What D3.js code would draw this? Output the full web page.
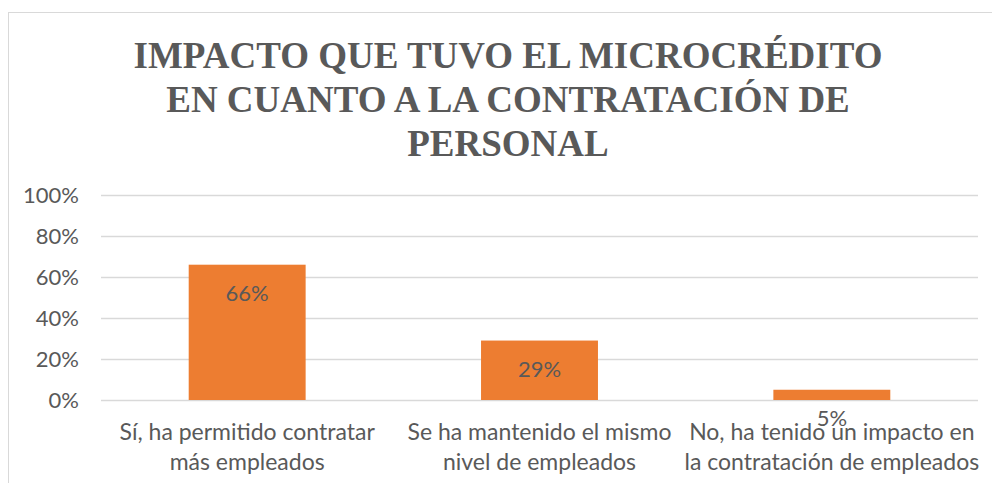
<!DOCTYPE html>
<html>
<head>
<meta charset="utf-8">
<script src="https://cdn.jsdelivr.net/npm/d3@7"></script>
<style>
  body { margin: 0; background: #fff; }
  svg text { fill: #595959; }
</style>
</head>
<body>
<div id="chart"></div>
<script>
const titleLines = ['IMPACTO QUE TUVO EL MICROCRÉDITO', 'EN CUANTO A LA CONTRATACIÓN DE', 'PERSONAL'];
const categories = [
  ['Sí, ha permitido contratar', 'más empleados'],
  ['Se ha mantenido el mismo', 'nivel de empleados'],
  ['No, ha tenido un impacto en', 'la contratación de empleados']
];
const values = [0.66, 0.29, 0.05];
const yTicks = [0, 0.2, 0.4, 0.6, 0.8, 1];

const width = 992, height = 483;
const margin = {top: 195, right: 14, bottom: 83, left: 101};
const bodyFont = 'Lato, "Open Sans", sans-serif';
const titleFont = '"Liberation Serif", Tinos, "Times New Roman", "DejaVu Serif", serif';

const svg = d3.select('#chart').append('svg')
  .attr('width', width)
  .attr('height', height);

// chart frame
svg.append('rect')
  .attr('x', 8.5).attr('y', 12.5)
  .attr('width', width + 10).attr('height', height + 10)
  .attr('fill', 'none').attr('stroke', '#d9d9d9');

const x = d3.scaleBand()
  .domain(d3.range(categories.length))
  .range([margin.left, width - margin.right])
  .paddingInner(0.6).paddingOuter(0.3);

const y = d3.scaleLinear()
  .domain([0, 1])
  .range([height - margin.bottom, margin.top]);

// title
svg.append('text')
  .attr('text-anchor', 'middle')
  .attr('font-family', titleFont)
  .attr('font-weight', 'bold')
  .attr('font-size', 37)
  .selectAll('tspan')
  .data(titleLines).enter()
  .append('tspan')
  .attr('x', 508)
  .attr('y', (d, i) => 68 + i * 44)
  .attr('font-family', titleFont)
  .text(d => d);

// gridlines + y labels
const yAxis = svg.append('g')
  .attr('transform', `translate(${margin.left},0)`)
  .call(d3.axisLeft(y).tickValues(yTicks).tickFormat(d3.format('.0%'))
    .tickSize(-(width - margin.left - margin.right)).tickPadding(22));
yAxis.select('.domain').remove();
yAxis.selectAll('line').attr('stroke', '#d9d9d9').attr('stroke-width', 1.3);
yAxis.selectAll('text')
  .style('font-family', bodyFont).style('font-size', '22px').attr('fill', '#595959');

// bars
svg.selectAll('rect.bar')
  .data(values).enter()
  .append('rect')
  .attr('class', 'bar')
  .attr('x', (d, i) => x(i))
  .attr('y', d => y(d))
  .attr('width', x.bandwidth())
  .attr('height', d => y(0) - y(d))
  .attr('fill', '#ed7d31');

// value labels
svg.selectAll('text.val')
  .data(values).enter()
  .append('text')
  .attr('class', 'val')
  .attr('x', (d, i) => x(i) + x.bandwidth() / 2)
  .attr('y', d => y(d) + 36)
  .attr('text-anchor', 'middle')
  .style('font-family', bodyFont).style('font-size', '22px')
  .text(d => d3.format('.0%')(d));

// category labels
const catG = svg.selectAll('text.cat')
  .data(categories).enter()
  .append('text')
  .attr('class', 'cat')
  .attr('text-anchor', 'middle')
  .style('font-family', bodyFont).style('font-size', '23px');
catG.selectAll('tspan')
  .data((d, i) => d.map(t => ({t, i}))).enter()
  .append('tspan')
  .attr('x', d => x(d.i) + x.bandwidth() / 2)
  .attr('y', (d, j) => 440 + j * 30)
  .text(d => d.t);
</script>
</body>
</html>
